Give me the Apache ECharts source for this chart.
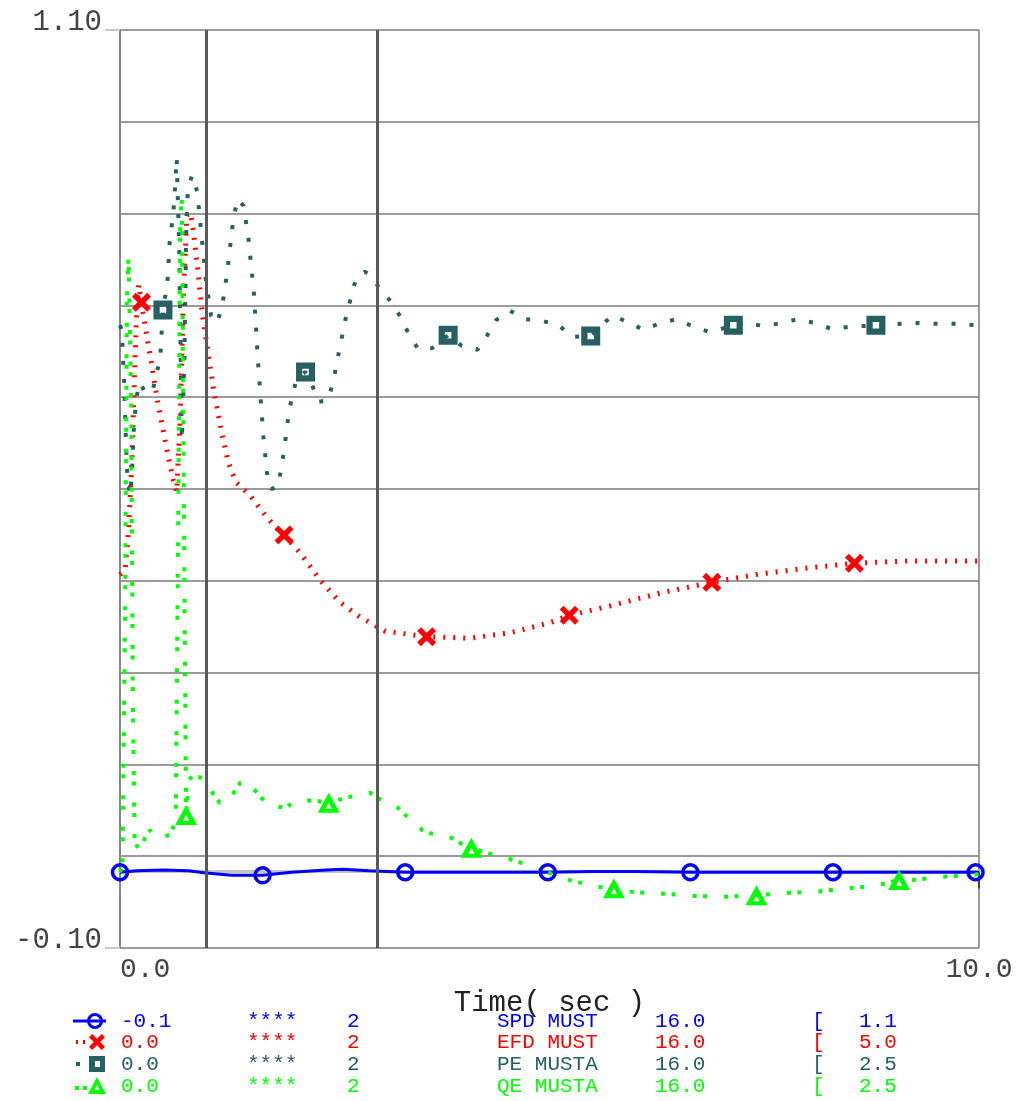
<!DOCTYPE html>
<html>
<head>
<meta charset="utf-8">
<title>MUST plot</title>
<script src="https://cdn.jsdelivr.net/npm/echarts@6/dist/echarts.min.js"></script>
<style>
  html, body { margin: 0; padding: 0; background: #fff; }
  #chart { width: 1018px; height: 1101px; }
</style>
</head>
<body>
<div id="chart"></div>
<script>
// ---- data (time in sec, values in plot units) ----
const spdT = [0, 0.2, 0.5, 0.8, 1.0, 1.3, 1.66, 2.0, 2.4, 2.6, 2.9, 3.32, 3.7, 4.3, 4.98, 5.5, 6.0, 6.64, 7.2, 7.8, 8.3, 9.0, 9.5, 9.96, 10];
const spdV = [-0.001, 0.001, 0.002, 0.001, -0.002, -0.005, -0.005, -0.001, 0.002, 0.003, 0.001, -0.001, -0.001, -0.001, -0.001, 0.0, 0.0, -0.001, -0.001, -0.001, -0.001, -0.001, -0.001, -0.001, -0.001];
const spdMarks = [0, 1.66, 3.32, 4.98, 6.64, 8.3, 9.96];

const efdT = [0, 0.06, 0.1, 0.14, 0.17, 0.2, 0.22, 0.25, 0.31, 0.37, 0.43, 0.49, 0.56, 0.62, 0.66, 0.7,
  0.74, 0.78, 0.82, 0.85, 0.9, 0.96, 1.02, 1.1, 1.19, 1.26, 1.35, 1.51, 1.69, 1.82, 1.91, 2.1,
  2.33, 2.56, 2.79, 3.09, 3.57, 4.07, 4.54, 5.0, 5.23, 5.7, 6.29, 6.89, 7.45, 8.03, 8.55, 9.2, 10];
const efdV = [0.388, 0.394, 0.446, 0.538, 0.656, 0.747, 0.767, 0.744, 0.701, 0.662, 0.619, 0.584, 0.544, 0.512, 0.496, 0.590,
  0.760, 0.858, 0.861, 0.841, 0.793, 0.727, 0.682, 0.623, 0.571, 0.535, 0.509, 0.492, 0.466, 0.449, 0.440, 0.416,
  0.381, 0.352, 0.333, 0.314, 0.307, 0.305, 0.312, 0.325, 0.335, 0.347, 0.364, 0.378, 0.389, 0.397, 0.403, 0.406, 0.406];
const efdMarks = [0.25, 1.91, 3.57, 5.23, 6.89, 8.55];

const peT = [0, 0.02, 0.05, 0.07, 0.09, 0.12, 0.14, 0.16, 0.19, 0.23,
  0.3, 0.38, 0.43, 0.47, 0.5, 0.55, 0.58, 0.62, 0.64, 0.66,
  0.69, 0.71, 0.72, 0.75, 0.77, 0.79, 0.84, 0.9, 0.94, 1.0,
  1.06, 1.13, 1.19, 1.25, 1.32, 1.37, 1.44, 1.5, 1.56, 1.61,
  1.67, 1.71, 1.76, 1.84, 1.91, 1.96, 2.0, 2.06, 2.16, 2.24,
  2.31, 2.42, 2.48, 2.56, 2.64, 2.75, 2.85, 2.91, 3.03, 3.17,
  3.27, 3.36, 3.47, 3.63, 3.82, 3.98, 4.16, 4.27, 4.38, 4.54,
  4.72, 4.91, 5.11, 5.26, 5.48, 5.59, 5.74, 5.91, 6.1, 6.29,
  6.48, 6.68, 6.87, 7.14, 7.28, 7.5, 7.7, 7.89, 8.09, 8.29,
  8.49, 8.8, 9.09, 9.3, 9.5, 9.72, 10];
const peV = [0.714, 0.708, 0.636, 0.558, 0.509, 0.492, 0.525, 0.577, 0.619, 0.639,
  0.625, 0.629, 0.652, 0.675, 0.734, 0.767, 0.826, 0.859, 0.893, 0.933,
  0.812, 0.642, 0.564, 0.669, 0.832, 0.893, 0.910, 0.888, 0.842, 0.773,
  0.727, 0.717, 0.739, 0.785, 0.854, 0.879, 0.870, 0.823, 0.754, 0.661,
  0.568, 0.522, 0.500, 0.503, 0.550, 0.595, 0.620, 0.645, 0.653, 0.635,
  0.614, 0.616, 0.639, 0.686, 0.730, 0.776, 0.784, 0.780, 0.761, 0.743,
  0.724, 0.703, 0.683, 0.684, 0.701, 0.687, 0.682, 0.700, 0.721, 0.733,
  0.722, 0.720, 0.714, 0.699, 0.700, 0.713, 0.727, 0.718, 0.708, 0.717,
  0.722, 0.712, 0.705, 0.714, 0.717, 0.713, 0.717, 0.722, 0.717, 0.709,
  0.712, 0.714, 0.716, 0.717, 0.716, 0.716, 0.714];
const peMarks = [0.5, 2.16, 3.82, 5.48, 7.14, 8.8];

const qeT = [0, 0.03, 0.06, 0.08, 0.1, 0.13, 0.15, 0.17, 0.23, 0.29,
  0.35, 0.43, 0.52, 0.58, 0.62, 0.65, 0.68, 0.7, 0.72, 0.74,
  0.76, 0.77, 0.8, 0.85, 0.97, 1.01, 1.16, 1.25, 1.4, 1.48,
  1.65, 1.72, 1.94, 2.01, 2.24, 2.43, 2.65, 2.91, 3.0, 3.24,
  3.32, 3.52, 3.61, 3.86, 3.96, 4.09, 4.27, 4.58, 4.9, 5.23,
  5.55, 5.75, 5.98, 6.33, 6.69, 7.07, 7.41, 7.76, 8.13, 8.49,
  8.82, 9.07, 9.23, 9.56, 9.92, 10];
const qeV = [-0.001, 0.009, 0.355, 0.747, 0.806, 0.616, 0.224, 0.041, 0.025, 0.044,
  0.054, 0.044, 0.046, 0.048, 0.058, 0.074, 0.486, 0.852, 0.878, 0.551,
  0.224, 0.074, 0.120, 0.125, 0.122, 0.113, 0.090, 0.090, 0.116, 0.118,
  0.096, 0.087, 0.083, 0.091, 0.093, 0.090, 0.097, 0.103, 0.096, 0.083,
  0.074, 0.054, 0.050, 0.044, 0.037, 0.031, 0.024, 0.015, 0.002, -0.011,
  -0.020, -0.022, -0.027, -0.029, -0.032, -0.033, -0.031, -0.028, -0.026, -0.022,
  -0.018, -0.011, -0.011, -0.007, -0.005, -0.003];
const qeMarks = [0.77, 2.43, 4.09, 5.75, 7.41, 9.07];

const eventTimes = [1, 3];
const xLabelValues = [0, 10];
const yLabelValues = [-0.1, 1.1];

// legend table rows
const legendMin = ['-0.1', '0.0', '0.0', '0.0'];
const legendStars = ['****', '****', '****', '****'];
const legendCount = ['2', '2', '2', '2'];
const legendNames = ['SPD MUST', 'EFD MUST', 'PE MUSTA', 'QE MUSTA'];
const legendScale = ['16.0', '16.0', '16.0', '16.0'];
const legendMax = ['1.1', '5.0', '2.5', '2.5'];

// ---- styling ----
const FONT = '"Liberation Mono", "DejaVu Sans Mono", monospace';
const BLUE = '#0000ff', RED = '#ff0000', TEAL = '#266060', GREEN = '#00ff00';
const GRIDC = '#7a7a7a';

const X_PATH = 'path://M2,0 L5,3 L8,0 L10,2 L7,5 L10,8 L8,10 L5,7 L2,10 L0,8 L3,5 L0,2 Z';
const SQ_PATH = 'path://M0,0 H10 V10 H0 Z M3.3,3.3 V6.7 H6.7 V3.3 Z';
const TRI_PATH = 'path://M5,0 L10,9 L0,9 Z M5,4.4 L3.6,7.2 L6.4,7.2 Z';

function toData(ts, vs, marks) {
  return ts.map((t, i) => {
    const hit = marks.some(m => Math.abs(m - t) < 1e-6);
    return hit ? { value: [t, vs[i]] } : { value: [t, vs[i]], symbol: 'none' };
  });
}

const chart = echarts.init(document.getElementById('chart'));

const series = [
  {
    type: 'line', z: 1, silent: true, data: [],
    markLine: {
      symbol: 'none', silent: true, label: { show: false },
      lineStyle: { color: '#5a5a5a', width: 3, type: 'solid' },
      data: eventTimes.map(t => ({ xAxis: t }))
    }
  },
  {
    name: 'SPD MUST', type: 'line', data: toData(spdT, spdV, spdMarks),
    symbol: 'circle', symbolSize: 15, showAllSymbol: true,
    lineStyle: { color: BLUE, width: 3, type: 'solid' },
    itemStyle: { color: 'rgba(0,0,0,0)', borderColor: BLUE, borderWidth: 3.5 }
  },
  {
    name: 'EFD MUST', type: 'line', data: toData(efdT, efdV, efdMarks),
    symbol: X_PATH, symbolSize: 19, showAllSymbol: true,
    lineStyle: { color: RED, width: 5, type: [2, 8], cap: 'butt' },
    itemStyle: { color: RED }
  },
  {
    name: 'PE MUSTA', type: 'line', data: toData(peT, peV, peMarks),
    symbol: SQ_PATH, symbolSize: 19, showAllSymbol: true,
    lineStyle: { color: TEAL, width: 4, type: [4, 14], cap: 'butt' },
    itemStyle: { color: TEAL }
  },
  {
    name: 'QE MUSTA', type: 'line', data: toData(qeT, qeV, qeMarks),
    symbol: TRI_PATH, symbolSize: [22, 20], showAllSymbol: true,
    lineStyle: { color: GREEN, width: 4, type: [4, 6.5, 4, 17], cap: 'butt' },
    itemStyle: { color: GREEN }
  }
];

// ---- legend table drawn below the axis ----
const rowY = [1021, 1042, 1064, 1086];
const rowColor = [BLUE, RED, TEAL, GREEN];
const colX = [121, 247, 347, 497, 655, 812, 859];
const graphics = [];
rowY.forEach((y, r) => {
  const cells = [legendMin[r], legendStars[r], legendCount[r], legendNames[r], legendScale[r], '[', legendMax[r]];
  cells.forEach((txt, c) => {
    graphics.push({
      type: 'text', x: colX[c], y: y, silent: true,
      style: { text: txt, fill: rowColor[r], font: '21px ' + FONT, align: 'left', verticalAlign: 'middle' }
    });
  });
});
// row icons
graphics.push(
  { type: 'line', shape: { x1: 73, y1: rowY[0], x2: 106, y2: rowY[0] }, style: { stroke: BLUE, lineWidth: 3 } },
  { type: 'circle', shape: { cx: 95, cy: rowY[0], r: 6.5 }, style: { fill: 'none', stroke: BLUE, lineWidth: 3 } },
  { type: 'line', shape: { x1: 76, y1: rowY[1], x2: 90, y2: rowY[1] }, style: { stroke: RED, lineWidth: 4, lineDash: [2, 5] } },
  { type: 'polygon', shape: { points: [[2,0],[5,3],[8,0],[10,2],[7,5],[10,8],[8,10],[5,7],[2,10],[0,8],[3,5],[0,2]].map(p => [89 + p[0] * 1.6, rowY[1] - 8 + p[1] * 1.6]) }, style: { fill: RED } },
  { type: 'line', shape: { x1: 76, y1: rowY[2], x2: 80, y2: rowY[2] }, style: { stroke: TEAL, lineWidth: 4 } },
  { type: 'rect', shape: { x: 89, y: rowY[2] - 8, width: 16, height: 16 }, style: { fill: TEAL } },
  { type: 'rect', shape: { x: 95, y: rowY[2] - 3, width: 5, height: 6 }, style: { fill: '#fff' } },
  { type: 'line', shape: { x1: 75, y1: rowY[3] + 2, x2: 88, y2: rowY[3] + 2 }, style: { stroke: GREEN, lineWidth: 4, lineDash: [4, 4] } },
  { type: 'polygon', shape: { points: [[97, rowY[3] - 9], [106, rowY[3] + 8], [88, rowY[3] + 8]] }, style: { fill: GREEN } },
  { type: 'polygon', shape: { points: [[97, rowY[3] - 1], [94.6, rowY[3] + 4], [99.4, rowY[3] + 4]] }, style: { fill: '#fff' } }
);

const option = {
  animation: false,
  backgroundColor: '#fff',
  grid: { left: 120, right: 39, top: 30, bottom: 153, containLabel: false },
  xAxis: {
    type: 'value', min: 0, max: 10, interval: 1,
    name: 'Time( sec )', nameLocation: 'middle', nameGap: 40,
    nameTextStyle: { fontFamily: FONT, fontSize: 29, color: '#222' },
    axisLine: { show: true, lineStyle: { color: '#c4c4c4', width: 3 } },
    axisTick: { show: true, customValues: [10], length: 17, lineStyle: { color: '#222', width: 1.5 } },
    axisLabel: {
      customValues: xLabelValues, formatter: v => v.toFixed(1),
      fontFamily: FONT, fontSize: 28, color: '#444', margin: 8,
      alignMinLabel: 'left', alignMaxLabel: 'center'
    },
    splitLine: { show: true, lineStyle: { color: GRIDC, width: 1.5 } }
  },
  yAxis: [
    {
      type: 'value', min: -0.1, max: 1.1,
      axisLine: { show: true, lineStyle: { color: '#888', width: 2 } },
      axisTick: { show: true, customValues: yLabelValues, length: 15, lineStyle: { color: '#c8c8c8', width: 2 } },
      axisLabel: {
        customValues: yLabelValues, formatter: v => v.toFixed(2),
        fontFamily: FONT, fontSize: 29, color: '#444', margin: 18,
        verticalAlign: 'bottom', lineHeight: 16
      },
      splitLine: { show: false }
    },
    {
      // ten equal divisions for the background grid
      type: 'value', min: 0, max: 10, interval: 1, position: 'left',
      axisLine: { show: false }, axisTick: { show: false }, axisLabel: { show: false },
      splitLine: { show: true, lineStyle: { color: GRIDC, width: 1.5 } }
    }
  ],
  series: series,
  graphic: graphics
};

chart.setOption(option);
</script>
</body>
</html>
